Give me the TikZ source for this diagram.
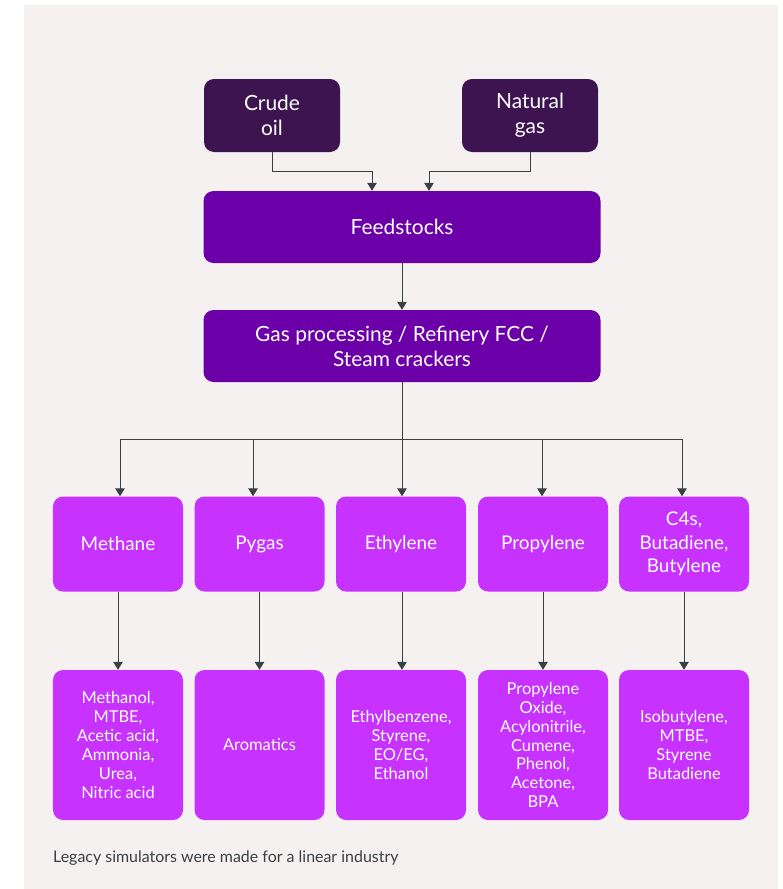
\documentclass[tikz,border=0pt]{standalone}
\usepackage{fontspec}
\setmainfont{Lato}
\usetikzlibrary{arrows.meta}
\definecolor{bg}{HTML}{F5F1F1}
\definecolor{darkp}{HTML}{3D1450}
\definecolor{midp}{HTML}{6B00A8}
\definecolor{brightp}{HTML}{C832FF}
\definecolor{linec}{HTML}{3A3F44}
\tikzset{
  basebox/.style={rectangle, rounded corners=10bp, text=white, align=center, inner sep=0pt},
  topbox/.style={basebox, fill=darkp, minimum width=136bp, minimum height=73bp, font=\fontsize{21}{25}\selectfont},
  widebox/.style={basebox, fill=midp, minimum width=397bp, minimum height=72bp, font=\fontsize{21}{25}\selectfont},
  prodbox/.style={basebox, fill=brightp, minimum width=130bp, minimum height=95bp, font=\fontsize{19}{23.5}\selectfont},
  derivbox/.style={basebox, fill=brightp, minimum width=130bp, minimum height=150bp, font=\fontsize{16.5}{19}\selectfont},
  conn/.style={draw=linec, line width=1bp, -{Triangle[width=9.5bp,length=8bp]}, linec}
}
\begin{document}
\begin{tikzpicture}[x=1bp,y=-1bp]
\useasboundingbox (0,0) rectangle (783,889);
\fill[bg] (24,5) rectangle (778,889);

\node[topbox] (crude) at (272,115.5) {Crude\\oil};
\node[topbox] (natgas) at (530,115.5) {Natural\\gas};
\node[widebox] (feed) at (402,227) {Feedstocks};
\node[widebox] (proc) at (402,346) {Gas processing / Refinery FCC /\\Steam crackers};

\node[prodbox] (methane) at (118,544) {Methane};
\node[prodbox] (pygas) at (259.5,544) {Pygas};
\node[prodbox] (ethylene) at (401,544) {Ethylene};
\node[prodbox] (propylene) at (543,544) {Propylene};
\node[prodbox] (cfour) at (684,544) {C4s,\\Butadiene,\\Butylene};

\node[derivbox] (dmeth) at (118,745) {Methanol,\\MTBE,\\Acetic acid,\\Ammonia,\\Urea,\\Nitric acid};
\node[derivbox] (dpyg) at (259.5,745) {Aromatics};
\node[derivbox] (deth) at (401,745) {Ethylbenzene,\\Styrene,\\EO/EG,\\Ethanol};
\node[derivbox] (dprop) at (543,745) {Propylene\\Oxide,\\Acylonitrile,\\Cumene,\\Phenol,\\Acetone,\\BPA};
\node[derivbox] (dcfour) at (684,745) {Isobutylene,\\MTBE,\\Styrene\\Butadiene};

\node[anchor=base west, text=linec, font=\fontsize{16}{19}\selectfont, inner sep=0pt] (caption) at (53,862) {Legacy simulators were made for a linear industry};

\draw[conn] (crude.south) -- ++(0,19) -| ([xshift=-30bp]feed.north);
\draw[conn] (natgas.south) -- ++(0,19) -| ([xshift=27bp]feed.north);
\draw[conn] (feed.south) -- (proc.north);

\coordinate (bus) at (402,439);
\draw[draw=linec, line width=1bp] (proc.south) -- (bus);
\draw[conn] (bus) -| ([xshift=2bp]methane.north);
\draw[conn] (bus) -| ([xshift=-6.5bp]pygas.north);
\draw[conn] (bus) -- ([xshift=1bp]ethylene.north);
\draw[conn] (bus) -| ([xshift=-1bp]propylene.north);
\draw[conn] (bus) -| ([xshift=-2bp]cfour.north);

\draw[conn] (methane.south) -- (dmeth.north);
\draw[conn] (pygas.south) -- (dpyg.north);
\draw[conn] ([xshift=1bp]ethylene.south) -- ([xshift=1bp]deth.north);
\draw[conn] (propylene.south) -- (dprop.north);
\draw[conn] (cfour.south) -- (dcfour.north);
\end{tikzpicture}
\end{document}
